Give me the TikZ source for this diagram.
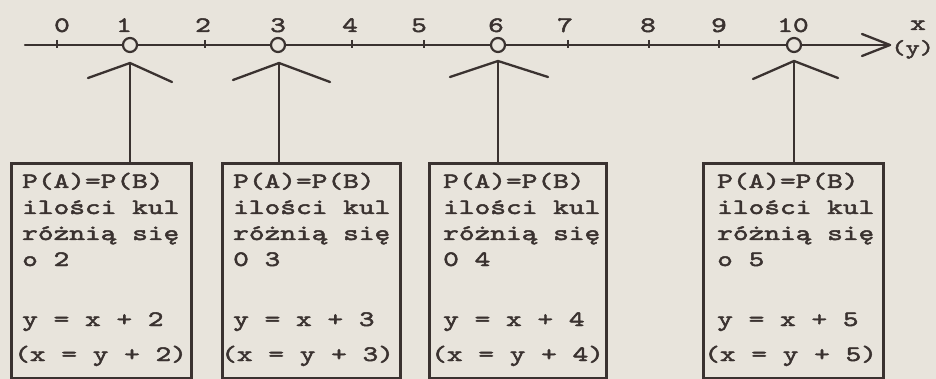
\documentclass[tikz,border=0pt]{standalone}
\usepackage{fontspec}
\newfontfamily\tw{lmmono10-regular.otf}[FakeStretch=1.36,FakeBold=2.2]
\definecolor{ink}{HTML}{3A3230}
\definecolor{paper}{HTML}{E8E4DC}
\begin{document}
\begin{tikzpicture}[x=1pt,y=-1pt,
  inkline/.style={draw=ink, line width=2.3pt, line cap=round, line join=round},
  boxnode/.style={draw=ink, line width=2.8pt, rectangle, inner sep=0pt, anchor=north west, fill=paper},
  txt/.style={anchor=base west, inner sep=0pt, text=ink, font=\tw\fontsize{22}{25}\selectfont},
  num/.style={anchor=base, inner sep=0pt, text=ink, font=\tw\fontsize{22}{25}\selectfont},
  ptnode/.style={circle, draw=ink, line width=2.2pt, fill=paper, minimum size=14pt, inner sep=0pt},
]
\fill[paper] (0,0) rectangle (936,379);
\useasboundingbox (0,0) rectangle (936,379);

% axis
\coordinate (axstart) at (25,45);
\coordinate (tip) at (890,45);
\draw[inkline] (axstart) -- (tip);
\draw[inkline] (tip) ++(-28,-11) coordinate (barbA) (barbA) -- (tip);
\draw[inkline] (tip) ++(-28,11) coordinate (barbB) (barbB) -- (tip);

% ticks
\foreach \tx/\nm in {57/t0,205/t2,352/t4,424/t5,568/t7,649/t8,719/t9}{
  \coordinate (\nm) at (\tx,45);
  \draw[ink, line width=1.8pt] (\nm) ++(0,-5) -- ++(0,8);
}

% numbers
\foreach \lx/\lab in {62/0,124/1,203/2,278/3,350/4,419/5,496/6,565/7,648/8,719/9,793/10}{
  \node[num] (n\lab) at (\lx,32) {\lab};
}
\node[num] (xlab) at (918,30) {x};
\node[txt, font=\tw\fontsize{20}{24}\selectfont] (ylab) at (891,54) {(y)};

% points on axis
\node[ptnode] (c1) at (130,45) {};
\node[ptnode] (c2) at (278,45) {};
\node[ptnode] (c3) at (498,45) {};
\node[ptnode] (c4) at (794,45) {};

% boxes
\node[boxnode, minimum width=180pt, minimum height=215pt] (b1) at (10,162) {};
\node[boxnode, minimum width=178pt, minimum height=215pt] (b2) at (221,162) {};
\node[boxnode, minimum width=177pt, minimum height=215pt] (b3) at (428,162) {};
\node[boxnode, minimum width=180pt, minimum height=215pt] (b4) at (702,162) {};

% pointers: apex, wings, stem
\foreach \i/\ax/\ay/\lx/\ly/\rx/\ry in {1/130/63/88/78/172/82, 2/279/63/233/80/330/82, 3/498/61/450/77/548/77, 4/794/61/753/79/838/78}{
  \coordinate (a\i) at (\ax,\ay);
  \coordinate (l\i) at (\lx,\ly);
  \coordinate (r\i) at (\rx,\ry);
  \draw[inkline] (l\i) -- (a\i) -- (r\i);
  \draw[inkline, line cap=butt] (a\i) -- (a\i |- b\i.north);
}

% texts
\foreach \i/\tx/\px/\d/\o in {1/22/14/2/o, 2/233/221/3/0, 3/443/431/4/0, 4/717/704/5/o}{
  \node[txt] (p\i) at (\tx,188) {P(A)=P(B)};
  \node[txt] (k\i) at (\tx,214) {ilości kul};
  \node[txt] (r\i) at (\tx,240) {różnią się};
  \node[txt] (o\i) at (\tx,266) {\o\ \d};
  \node[txt] (e\i) at (\tx,326) {y = x + \d};
  \node[txt] (f\i) at (\px,361) {(x = y + \d)};
}
\end{tikzpicture}
\end{document}
